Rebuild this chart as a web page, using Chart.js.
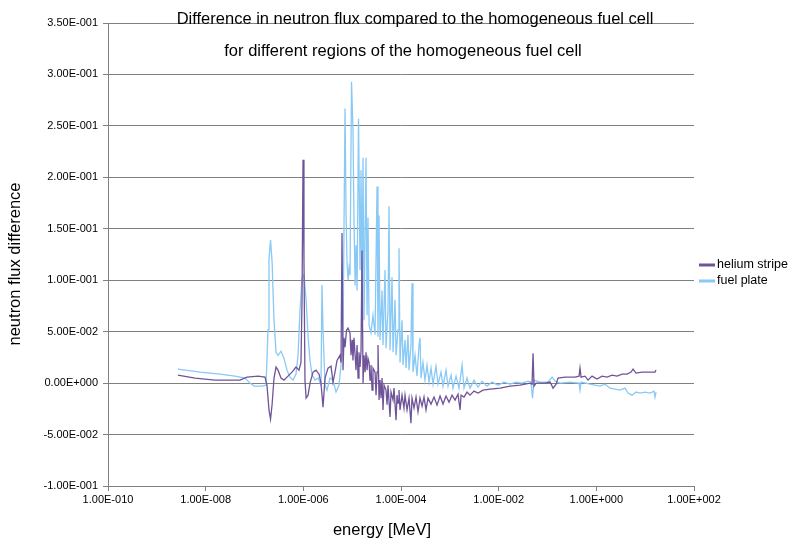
<!DOCTYPE html>
<html>
<head>
<meta charset="utf-8">
<title>Difference in neutron flux</title>
<script src="https://cdn.jsdelivr.net/npm/chart.js@4.4.0/dist/chart.umd.min.js"></script>
<style>
  html, body { margin: 0; padding: 0; background: #fff; }
  canvas { display: block; }
</style>
</head>
<body>
<canvas id="fluxChart" width="807" height="546"></canvas>
<script>
// energie [MeV] e differenza di flusso
const heliumEnergy = [
    2.7e-9, 6.05e-9, 1.55e-8, 5.05e-8, 7.03e-8, 1.18e-7, 1.64e-7, 1.80e-7, 1.98e-7, 2.13e-7,
    2.29e-7, 2.51e-7, 2.76e-7, 3.03e-7, 3.49e-7, 4.02e-7, 4.85e-7, 5.86e-7, 7.08e-7, 8.15e-7,
    8.95e-7, 9.4e-7, 9.85e-7, 1.03e-6, 1.08e-6, 1.14e-6, 1.25e-6, 1.37e-6, 1.58e-6, 1.82e-6,
    2.10e-6, 2.30e-6, 2.53e-6, 2.78e-6, 3.2e-6, 3.69e-6, 4.05e-6, 4.45e-6, 4.9e-6, 5.64e-6,
    5.91e-6, 6.2e-6, 6.5e-6, 6.81e-6, 7.14e-6, 7.66e-6, 8.22e-6, 9.04e-6, 9.47e-6, 9.93e-6,
    1.04e-5, 1.09e-5, 1.20e-5, 1.26e-5, 1.32e-5, 1.38e-5, 1.45e-5, 1.52e-5, 1.59e-5, 1.67e-5,
    1.75e-5, 1.84e-5, 1.92e-5, 2.02e-5, 2.11e-5, 2.22e-5, 2.32e-5, 2.43e-5, 2.55e-5, 2.67e-5,
    2.94e-5, 3.08e-5, 3.23e-5, 3.38e-5, 3.55e-5, 3.72e-5, 3.9e-5, 4.09e-5, 4.28e-5, 4.49e-5,
    4.93e-5, 5.18e-5, 5.42e-5, 5.96e-5, 6.25e-5, 6.87e-5, 7.2e-5, 7.91e-5, 8.3e-5, 8.69e-5,
    9.1e-5, 9.55e-5, 1.05e-4, 1.15e-4, 1.21e-4, 1.33e-4, 1.46e-4, 1.60e-4, 1.68e-4, 1.85e-4,
    2.03e-4, 2.23e-4, 2.45e-4, 2.70e-4, 2.96e-4, 3.25e-4, 3.57e-4, 4.12e-4, 4.74e-4, 5.47e-4,
    6.3e-4, 7.25e-4, 8.35e-4, 9.62e-4, 1.11e-3, 1.28e-3, 1.47e-3, 1.62e-3, 1.70e-3, 1.95e-3,
    2.25e-3, 2.59e-3, 3.13e-3, 3.78e-3, 4.78e-3, 6.65e-3, 1.07e-2, 1.71e-2, 2.74e-2, 4.39e-2,
    4.82e-2, 5.06e-2, 5.30e-2, 5.82e-2, 8.9e-2, 0.113, 0.130, 0.150, 0.164, 0.229,
    0.366, 0.442, 0.463, 0.486, 0.587, 0.676, 0.817, 1.03, 1.31, 1.66,
    2.10, 2.66, 3.36, 4.26, 5.14, 5.65, 6.5, 8.63, 11.5, 15.9, 16.7
];
const heliumStripe = [
    0.0078, 0.0049, 0.0029, 0.0029, 0.0058, 0.0068, 0.0058, -0.002, -0.026, -0.035,
    -0.021, 0.0049, 0.0156, 0.0126, 0.0049, 0.0029, 0.0068, 0.0107, 0.0156, 0.0126,
    0.020, 0.081, 0.217, 0.12, 0.0029, -0.0146, -0.0117, 0.0, 0.0107, 0.0126,
    0.0087, 0.0, -0.0233, 0.0049, 0.0146, 0.0165, 0.001, 0.0107, 0.022, 0.027,
    0.020, 0.146, 0.0126, 0.044, 0.035, 0.0515, 0.0535, 0.0486, 0.027, 0.042,
    0.022, 0.044, 0.0126, 0.037, 0.0049, 0.030, 0.0156, 0.032, 0.129, 0.0,
    0.027, 0.0107, 0.030, 0.0126, 0.024, 0.020, 0.0029, 0.0175, -0.0068, 0.0146,
    0.0107, -0.0117, 0.0107, 0.037, -0.0165, 0.0029, -0.0146, 0.0049, -0.026, -0.002,
    -0.0068, -0.021, -0.002, -0.033, -0.0087, -0.0165, -0.0049, -0.036, -0.0117, -0.0194,
    -0.0068, -0.026, -0.0117, -0.0243, -0.0117, -0.026, -0.0146, -0.039, -0.0146, -0.0243,
    -0.0136, -0.028, -0.0146, -0.0224, -0.0136, -0.026, -0.0146, -0.0204, -0.0136, -0.0214,
    -0.0126, -0.0204, -0.0126, -0.0185, -0.0117, -0.0165, -0.0107, -0.026, -0.0117, -0.0136,
    -0.0087, -0.0117, -0.0078, -0.0097, -0.0068, -0.0058, -0.0049, -0.0029, -0.002, 0.0,
    -0.001, 0.029, -0.003, 0.0, 0.0, 0.001, -0.0049, -0.001, 0.0049, 0.0058,
    0.0058, 0.0068, 0.0146, 0.0058, 0.0068, 0.0029, 0.0068, 0.0039, 0.0068, 0.0058,
    0.0078, 0.0068, 0.0087, 0.0087, 0.0107, 0.0136, 0.0097, 0.0107, 0.0107, 0.0107, 0.0126
];
const fuelEnergy = [
    2.7e-9, 7.7e-9, 1.97e-8, 4.0e-8, 6.4e-8, 8.1e-8, 9.8e-8, 1.43e-7, 1.72e-7, 1.89e-7,
    1.98e-7, 2.13e-7, 2.29e-7, 2.51e-7, 2.76e-7, 3.03e-7, 3.49e-7, 4.02e-7, 4.63e-7, 5.33e-7,
    6.15e-7, 7.08e-7, 7.78e-7, 8.55e-7, 9.4e-7, 1.03e-6, 1.14e-6, 1.25e-6, 1.37e-6, 1.51e-6,
    1.73e-6, 2.0e-6, 2.30e-6, 2.41e-6, 2.53e-6, 2.78e-6, 3.05e-6, 3.52e-6, 4.05e-6, 4.67e-6,
    5.38e-6, 5.91e-6, 6.5e-6, 7.14e-6, 7.48e-6, 7.84e-6, 8.22e-6, 8.63e-6, 9.04e-6, 9.7e-6,
    1.04e-5, 1.09e-5, 1.15e-5, 1.20e-5, 1.26e-5, 1.35e-5, 1.45e-5, 1.52e-5, 1.59e-5, 1.67e-5,
    1.75e-5, 1.92e-5, 2.02e-5, 2.11e-5, 2.22e-5, 2.43e-5, 2.67e-5, 2.94e-5, 3.23e-5, 3.38e-5,
    3.55e-5, 3.72e-5, 4.09e-5, 4.28e-5, 4.71e-5, 4.93e-5, 5.42e-5, 5.69e-5, 5.96e-5, 6.55e-5,
    6.87e-5, 7.55e-5, 7.91e-5, 8.69e-5, 9.1e-5, 9.55e-5, 1.05e-4, 1.10e-4, 1.21e-4, 1.27e-4,
    1.39e-4, 1.46e-4, 1.60e-4, 1.68e-4, 1.76e-4, 1.94e-4, 2.13e-4, 2.34e-4, 2.45e-4, 2.57e-4,
    2.82e-4, 3.10e-4, 3.41e-4, 3.75e-4, 4.12e-4, 4.53e-4, 5.21e-4, 5.73e-4, 6.60e-4, 7.25e-4,
    8.35e-4, 9.18e-4, 1.06e-3, 1.16e-3, 1.34e-3, 1.54e-3, 1.78e-3, 1.95e-3, 2.25e-3, 2.59e-3,
    3.13e-3, 3.78e-3, 4.56e-3, 5.77e-3, 7.31e-3, 9.7e-3, 1.29e-2, 1.71e-2, 2.27e-2, 3.01e-2,
    3.99e-2, 4.60e-2, 4.93e-2, 5.30e-2, 7.03e-2, 0.103, 0.124, 0.143, 0.181, 0.289,
    0.442, 0.463, 0.486, 0.743, 1.19, 1.51, 1.91, 2.42, 3.06, 3.87,
    4.46, 5.38, 6.5, 7.85, 9.94, 12.6, 15.2, 15.9, 16.7
];
const fuelPlate = [
    0.0136, 0.0107, 0.0087, 0.0068, 0.0049, 0.0, -0.0029, -0.0029, -0.002, 0.052,
    0.12, 0.139, 0.118, 0.061, 0.030, 0.027, 0.031, 0.024, 0.0126, 0.0058,
    0.0029, 0.0087, 0.027, 0.071, 0.102, 0.105, 0.081, 0.045, 0.022, 0.0078,
    0.0029, 0.0049, -0.002, 0.0953, 0.052, -0.002, -0.0068, 0.0049, 0.0029, -0.0087,
    -0.002, 0.0175, 0.0418, 0.267, 0.168, 0.117, 0.100, 0.112, 0.105, 0.293,
    0.246, 0.158, 0.095, 0.134, 0.090, 0.257, 0.11, 0.207, 0.081, 0.219,
    0.061, 0.219, 0.066, 0.161, 0.056, 0.049, 0.066, 0.047, 0.191, 0.045,
    0.163, 0.042, 0.090, 0.037, 0.11, 0.034, 0.071, 0.172, 0.032, 0.103,
    0.030, 0.081, 0.027, 0.052, 0.131, 0.020, 0.061, 0.0175, 0.042, 0.0146,
    0.047, 0.0126, 0.037, 0.097, 0.0107, 0.027, 0.0068, 0.037, 0.044, 0.0049,
    0.020, 0.0029, 0.0175, 0.001, 0.0146, -0.001, 0.0165, -0.001, 0.0107, -0.003,
    0.0126, -0.003, 0.0078, -0.0049, 0.0068, -0.0049, 0.0175, -0.0049, 0.0049, -0.0049,
    0.0029, -0.0039, 0.0019, -0.0029, 0.001, -0.002, 0.001, -0.001, 0.001, 0.0,
    0.0019, 0.001, -0.0146, 0.0029, 0.001, 0.001, 0.0058, 0.0019, 0.0, 0.001,
    0.0, -0.0068, 0.001, -0.001, -0.0029, -0.001, -0.0049, -0.0058, -0.0068, -0.0049,
    -0.0097, -0.0117, -0.0087, -0.0097, -0.0087, -0.0097, -0.0078, -0.0136, -0.0087
];
const xTickValues = [1e-10, 1e-8, 1e-6, 1e-4, 1e-2, 1e0, 1e2];
const seriesNames = ['helium stripe', 'fuel plate'];
const seriesColors = ['#6f5499', '#88c9f6'];

const FONT = '"Liberation Sans", Arial, sans-serif';

// formato tipo "3.50E-001"
function sciLabel(v) {
    if (Math.abs(v) < 1e-12) v = 0;
    const parts = Number(v).toExponential(2).split('e');
    const exp = parseInt(parts[1], 10);
    return parts[0] + 'E' + (exp < 0 ? '-' : '+') + String(Math.abs(exp)).padStart(3, '0');
}

function toPoints(xs, ys) {
    return xs.map((x, i) => ({ x: x, y: ys[i] }));
}

// titoli, etichette assi e legenda disegnati a mano
const textPlugin = {
    id: 'textPlugin',
    afterDraw(chart) {
        const ctx = chart.ctx;
        ctx.save();
        ctx.fillStyle = '#000';
        ctx.textAlign = 'center';
        ctx.textBaseline = 'middle';
        ctx.font = '16.5px ' + FONT;
        ctx.fillText('Difference in neutron flux compared to the homogeneous fuel cell', 415, 19);
        ctx.fillText('for different regions of the homogeneous fuel cell', 403, 51);
        ctx.fillText('energy [MeV]', 382, 530);

        ctx.save();
        ctx.translate(15, 264);
        ctx.rotate(-Math.PI / 2);
        ctx.fillText('neutron flux difference', 0, 0);
        ctx.restore();

        // legenda
        ctx.textAlign = 'left';
        ctx.font = '12.5px ' + FONT;
        seriesNames.forEach((name, i) => {
            const y = 265 + i * 16;
            ctx.fillStyle = seriesColors[i];
            ctx.fillRect(699, y - 1.5, 16, 3);
            ctx.fillStyle = '#000';
            ctx.fillText(name, 717, y);
        });
        ctx.restore();
    }
};

const ctx = document.getElementById('fluxChart').getContext('2d');
new Chart(ctx, {
    type: 'line',
    data: {
        datasets: [
            {
                label: seriesNames[0],
                data: toPoints(heliumEnergy, heliumStripe),
                borderColor: seriesColors[0],
                borderWidth: 1.3,
                pointRadius: 0,
                tension: 0,
                fill: false
            },
            {
                label: seriesNames[1],
                data: toPoints(fuelEnergy, fuelPlate),
                borderColor: seriesColors[1],
                borderWidth: 1.3,
                pointRadius: 0,
                tension: 0,
                fill: false
            }
        ]
    },
    options: {
        responsive: false,
        animation: false,
        devicePixelRatio: 1,
        layout: {
            padding: { left: 0, top: 23, right: 113, bottom: 0 }
        },
        plugins: {
            legend: { display: false },
            title: { display: false },
            tooltip: { enabled: false }
        },
        scales: {
            x: {
                type: 'logarithmic',
                min: 1e-10,
                max: 1e2,
                afterBuildTicks(scale) {
                    scale.ticks = xTickValues.map(v => ({ value: v }));
                },
                afterFit(scale) {
                    scale.height = 60;
                },
                ticks: {
                    callback: (v) => sciLabel(v),
                    autoSkip: false,
                    maxRotation: 0,
                    color: '#000',
                    font: { size: 11, family: FONT },
                    padding: 2
                },
                grid: {
                    drawOnChartArea: false,
                    color: '#808080',
                    tickLength: 5
                },
                border: { color: '#808080' }
            },
            y: {
                min: -0.1,
                max: 0.35,
                afterFit(scale) {
                    scale.width = 108;
                },
                ticks: {
                    stepSize: 0.05,
                    callback: (v) => sciLabel(v),
                    color: '#000',
                    font: { size: 11, family: FONT },
                    padding: 5
                },
                grid: {
                    color: '#808080',
                    tickLength: 5
                },
                border: { color: '#808080' }
            }
        }
    },
    plugins: [textPlugin]
});
</script>
</body>
</html>
